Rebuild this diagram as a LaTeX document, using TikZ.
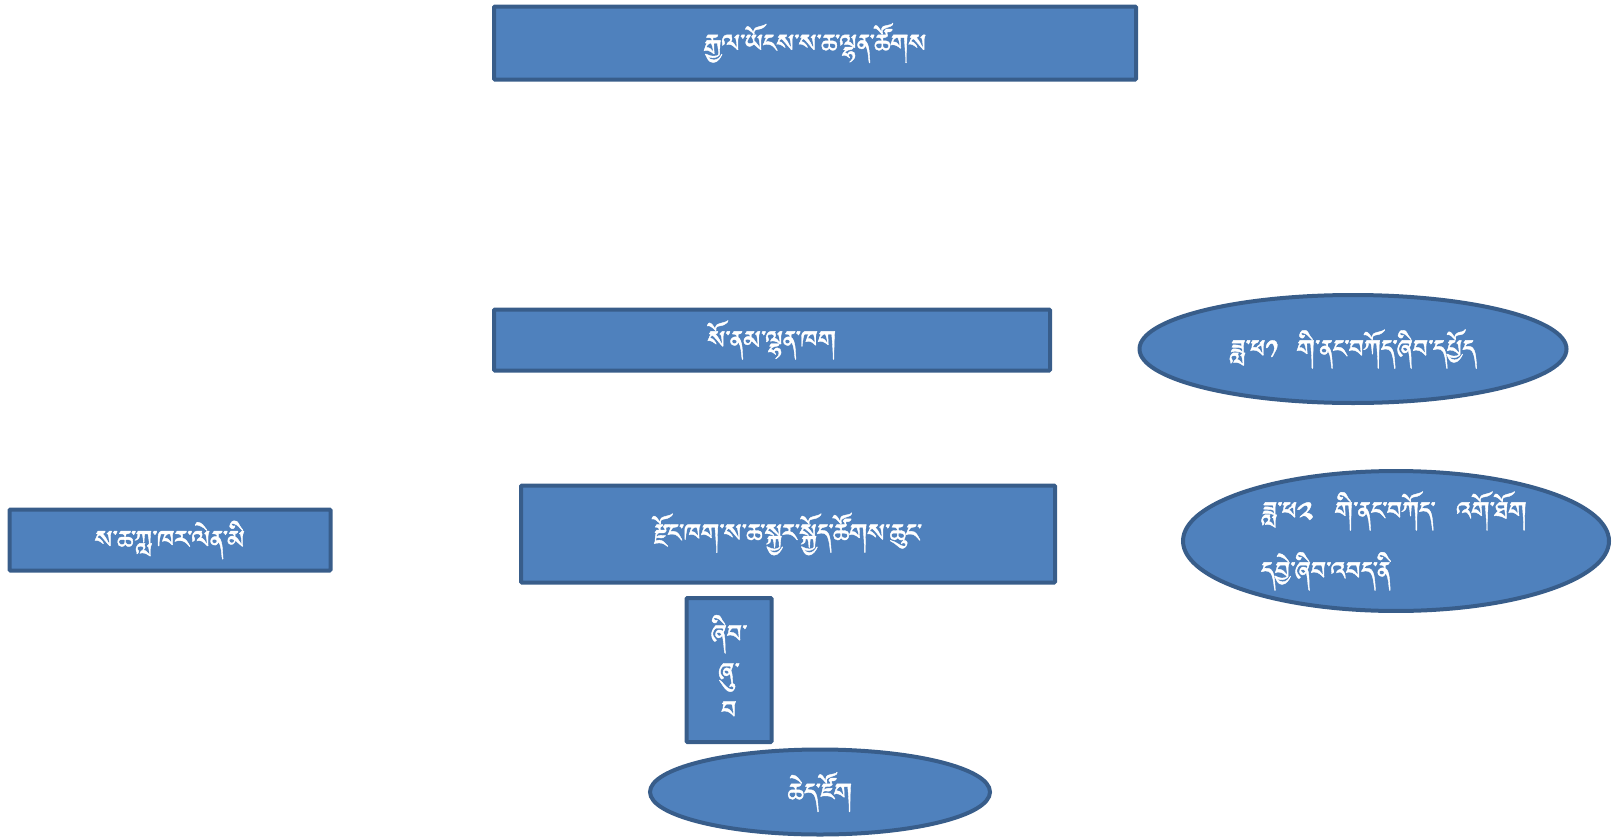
\documentclass[tikz,border=0pt]{standalone}
\usepackage{fontspec}
\usetikzlibrary{shapes.geometric}
\IfFontExistsTF{Jomolhari}{\newfontfamily\tib[Script=Tibetan,FakeBold=1.2]{Jomolhari}}{%
 \IfFontExistsTF{Tibetan Machine Uni}{\newfontfamily\tib[Script=Tibetan,FakeBold=1.2]{Tibetan Machine Uni}}{%
   \newfontfamily\tib{DejaVu Sans}}}
\definecolor{fillblue}{HTML}{4F81BD}
\definecolor{edgeblue}{HTML}{385D8A}
\tikzset{
 shp/.style={draw=edgeblue, fill=fillblue, line width=4pt, text=white, font=\tib\fontsize{32}{40}\selectfont, inner sep=0pt},
 boxx/.style={shp, rectangle, rounded corners=1pt},
 ell/.style={shp, ellipse}
}
\begin{document}
\begin{tikzpicture}[x=1pt,y=-1pt]
\useasboundingbox (0,0) rectangle (1612,838);
\node[boxx, minimum width=642pt, minimum height=73pt] (nlc) at (815,43) {རྒྱལ་ཡོངས་ས་ཆ་ལྷན་ཚོགས};
\node[boxx, minimum width=556pt, minimum height=61pt] (moa) at (772,340) {སོ་ནམ་ལྷན་ཁག};
\node[ell, minimum width=427pt, minimum height=108pt] (e1) at (1353,349) {ཟླ་ཕ༡ \ གི་ནང་བཀོད་ཞིབ་དཔྱོད};
\node[boxx, minimum width=534pt, minimum height=97pt] (dz) at (788,534) {རྫོང་ཁག་ས་ཆ་སྐྱར་སྐྱོད་ཚོགས་ཆུང་};
\node[ell, minimum width=426pt, minimum height=132pt, align=left, text width=270pt] (e2) at (1396,541) {ཟླ་ཕ༢ \ གི་ནང་བཀོད་ \ འགོ་ཐོག\\[20pt]དབྱེ་ཞིབ་འབད་ནི};
\node[boxx, minimum width=321pt, minimum height=61pt] (lt) at (170,540) {ས་ཆ་ཀླ་ཁར་ལེན་མི};
\node[boxx, minimum width=85pt, minimum height=144pt, align=center, font=\tib\fontsize{32}{38}\selectfont] (vt) at (729,670) {ཞིབ་\\ཞུ་\\བ};
\node[ell, minimum width=340pt, minimum height=85pt] (e3) at (820,792) {ཆེད་ཛོག};
\end{tikzpicture}
\end{document}
